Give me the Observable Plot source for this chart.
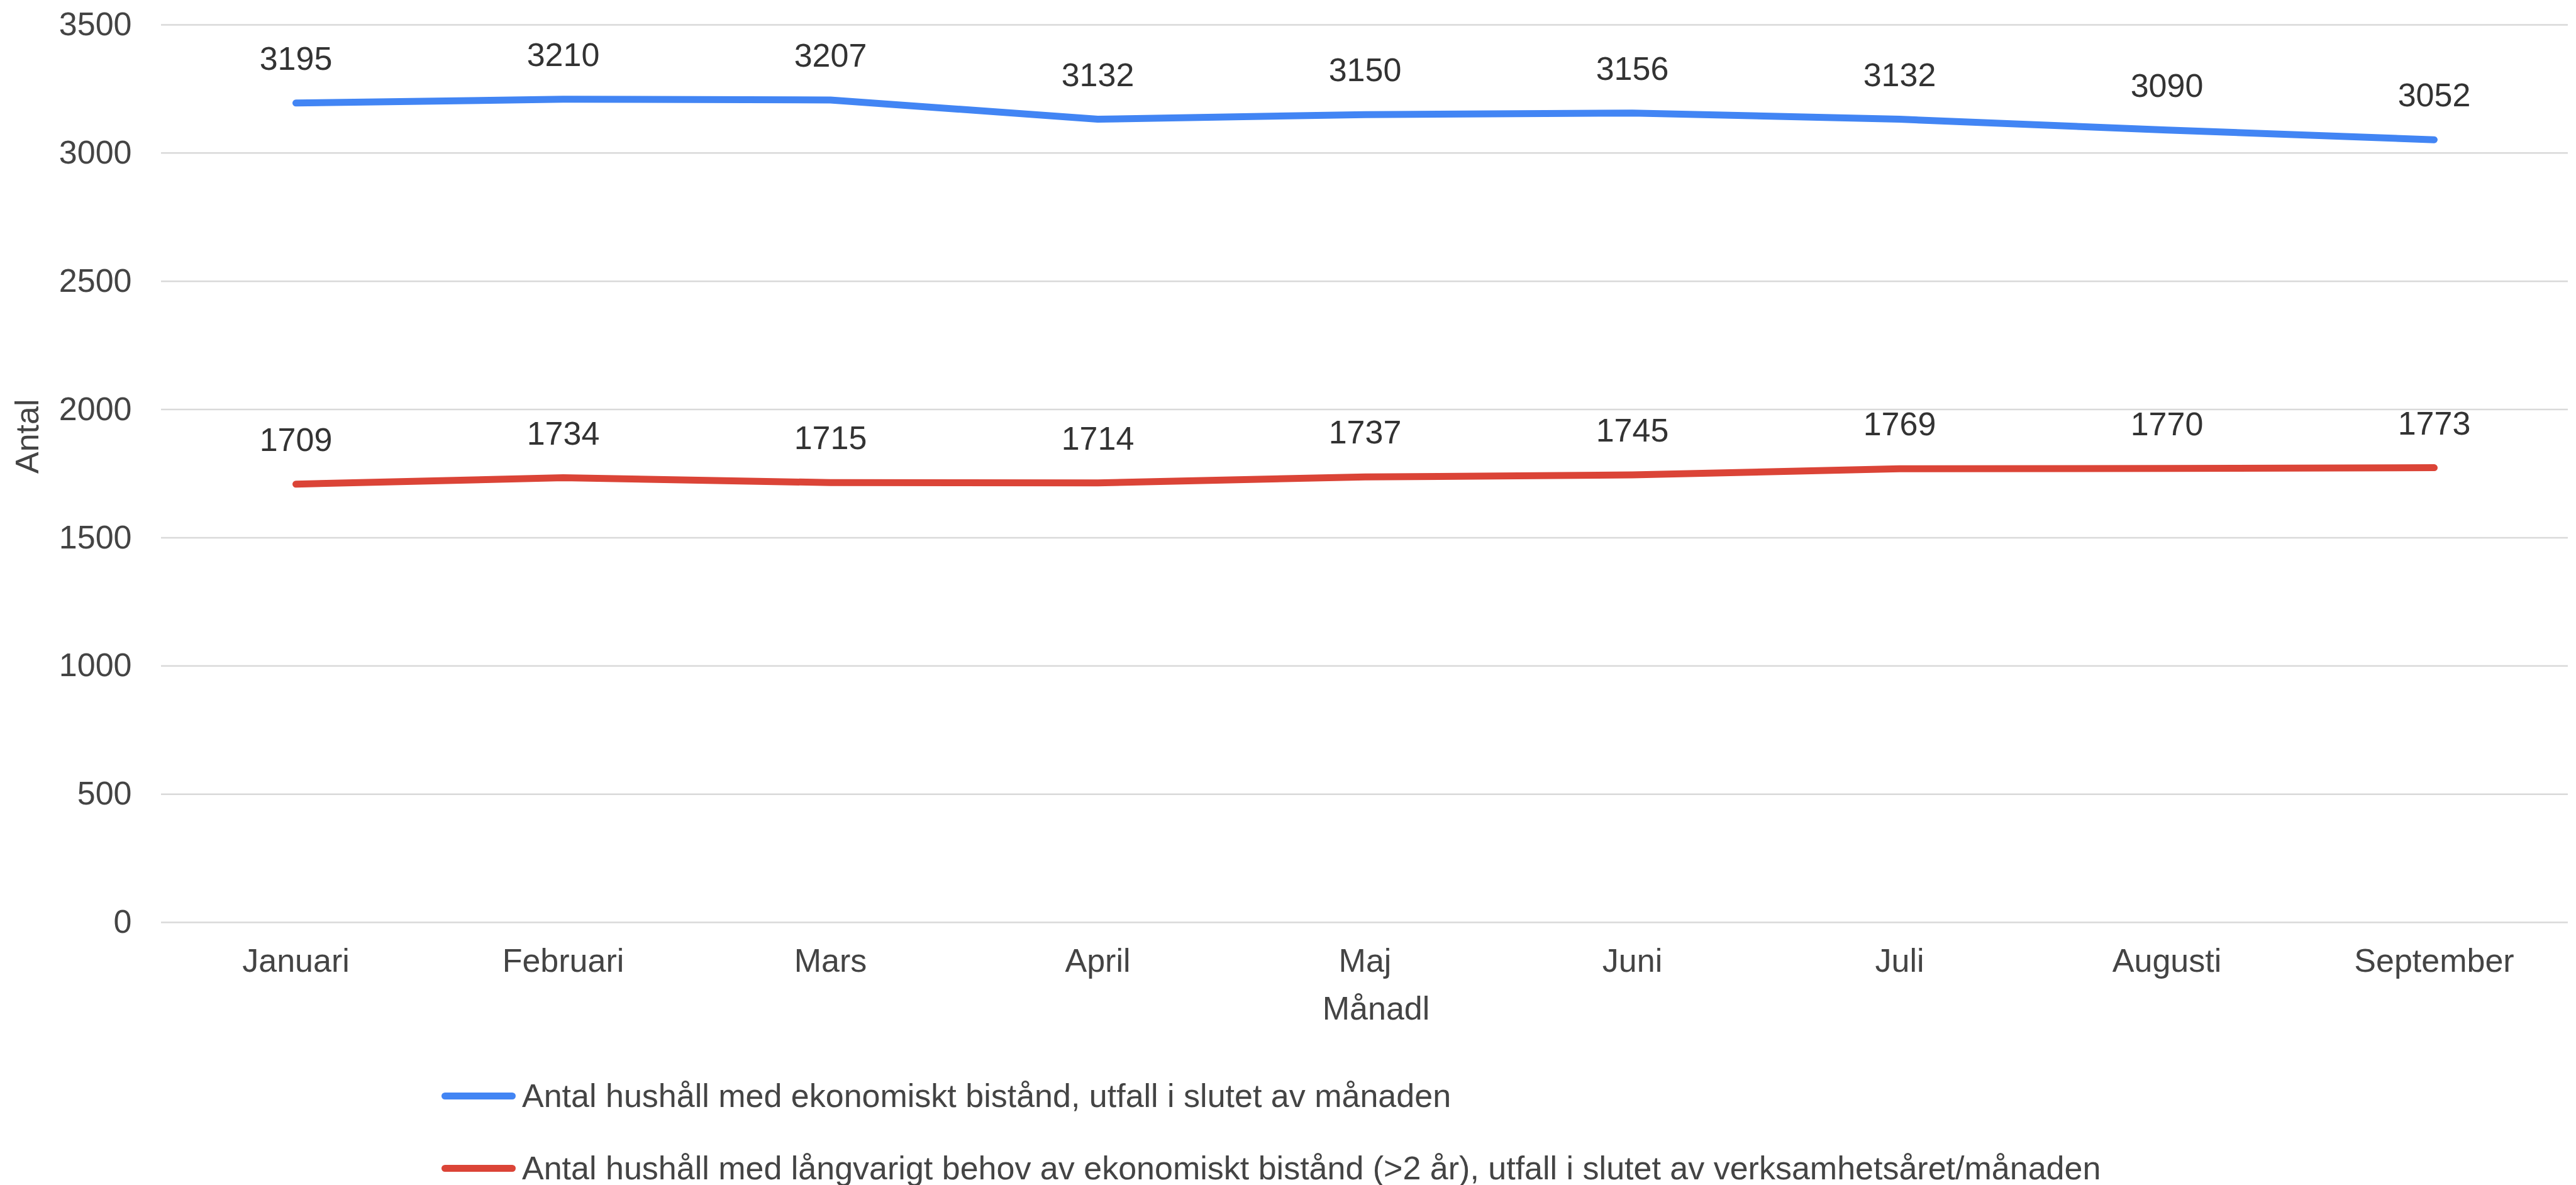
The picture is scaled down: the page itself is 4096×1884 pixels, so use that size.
<!DOCTYPE html>
<html>
<head>
<meta charset="utf-8">
<script src="https://cdn.jsdelivr.net/npm/d3@7"></script>
<script src="https://cdn.jsdelivr.net/npm/@observablehq/plot@0.6"></script>
<style>
  html, body { margin: 0; padding: 0; background: #fff; overflow: hidden; }
  body { width: 4096px; height: 1884px; font-family: "Liberation Sans", Arial, sans-serif; }
  #legend { padding-left: 702px; margin-top: 50px; color: #444; font-size: 52px; }
  .row { display: flex; align-items: center; height: 54px; }
  .row + .row { margin-top: 61px; }
  .sw { width: 118px; height: 11px; border-radius: 6px; }
  .lab { margin-left: 10px; white-space: nowrap; }
</style>
</head>
<body>
<div id="chart"></div>
<div id="legend"></div>
<script>
const months = ["Januari","Februari","Mars","April","Maj","Juni","Juli","Augusti","September"];
const seriesNames = [
  "Antal hushåll med ekonomiskt bistånd, utfall i slutet av månaden",
  "Antal hushåll med långvarigt behov av ekonomiskt bistånd (>2 år), utfall i slutet av verksamhetsåret/månaden"
];
const seriesColors = ["#4285F4", "#DB4437"];
const blueValues = [3195, 3210, 3207, 3132, 3150, 3156, 3132, 3090, 3052];
const redValues = [1709, 1734, 1715, 1714, 1737, 1745, 1769, 1770, 1773];
const yTicks = [0, 500, 1000, 1500, 2000, 2500, 3000, 3500];
const xTitle = "Månadl";
const yTitle = "Antal";

const data = [
  ...months.map((m, i) => ({month: m, value: blueValues[i], series: seriesNames[0]})),
  ...months.map((m, i) => ({month: m, value: redValues[i], series: seriesNames[1]}))
];

const W = 4096, H = 1665;
const chart = Plot.plot({
  width: W,
  height: H,
  marginLeft: 256,
  marginRight: 13,
  marginTop: 39,
  marginBottom: 199,
  style: {fontFamily: '"Liberation Sans", Arial, sans-serif', color: "#444", background: "#fff"},
  x: {type: "point", domain: months, padding: 0.5, label: null},
  y: {domain: [0, 3500], ticks: yTicks, label: null},
  color: {domain: seriesNames, range: seriesColors},
  marks: [
    Plot.gridY(yTicks, {stroke: "#d9d9d9", strokeOpacity: 1, strokeWidth: 2.5}),
    Plot.axisY(yTicks, {tickSize: 0, tickPadding: 47, fontSize: 52, fill: "#444", label: null, tickFormat: d => String(d)}),
    Plot.axisX({tickSize: 0, tickPadding: 42, fontSize: 52, fill: "#444", label: null}),
    Plot.line(data, {x: "month", y: "value", z: "series", stroke: "series", strokeWidth: 11, strokeLinecap: "round", strokeLinejoin: "round"}),
    Plot.text(data, {x: "month", y: "value", text: d => String(d.value), dy: -53, lineAnchor: "bottom", fontSize: 52, fill: "#333"}),
    Plot.text([xTitle], {frameAnchor: "bottom", text: d => d, dx: 18, dy: 154, lineAnchor: "bottom", fontSize: 52, fill: "#444"}),
    Plot.text([yTitle], {frameAnchor: "left", text: d => d, dx: -212, rotate: -90, lineAnchor: "middle", fontSize: 52, fill: "#444"})
  ]
});
document.getElementById("chart").appendChild(chart);

const legend = document.getElementById("legend");
seriesNames.forEach((name, i) => {
  const row = document.createElement("div");
  row.className = "row";
  const sw = document.createElement("div");
  sw.className = "sw";
  sw.style.background = seriesColors[i];
  const lab = document.createElement("span");
  lab.className = "lab";
  lab.textContent = name;
  row.appendChild(sw);
  row.appendChild(lab);
  legend.appendChild(row);
});
</script>
</body>
</html>
